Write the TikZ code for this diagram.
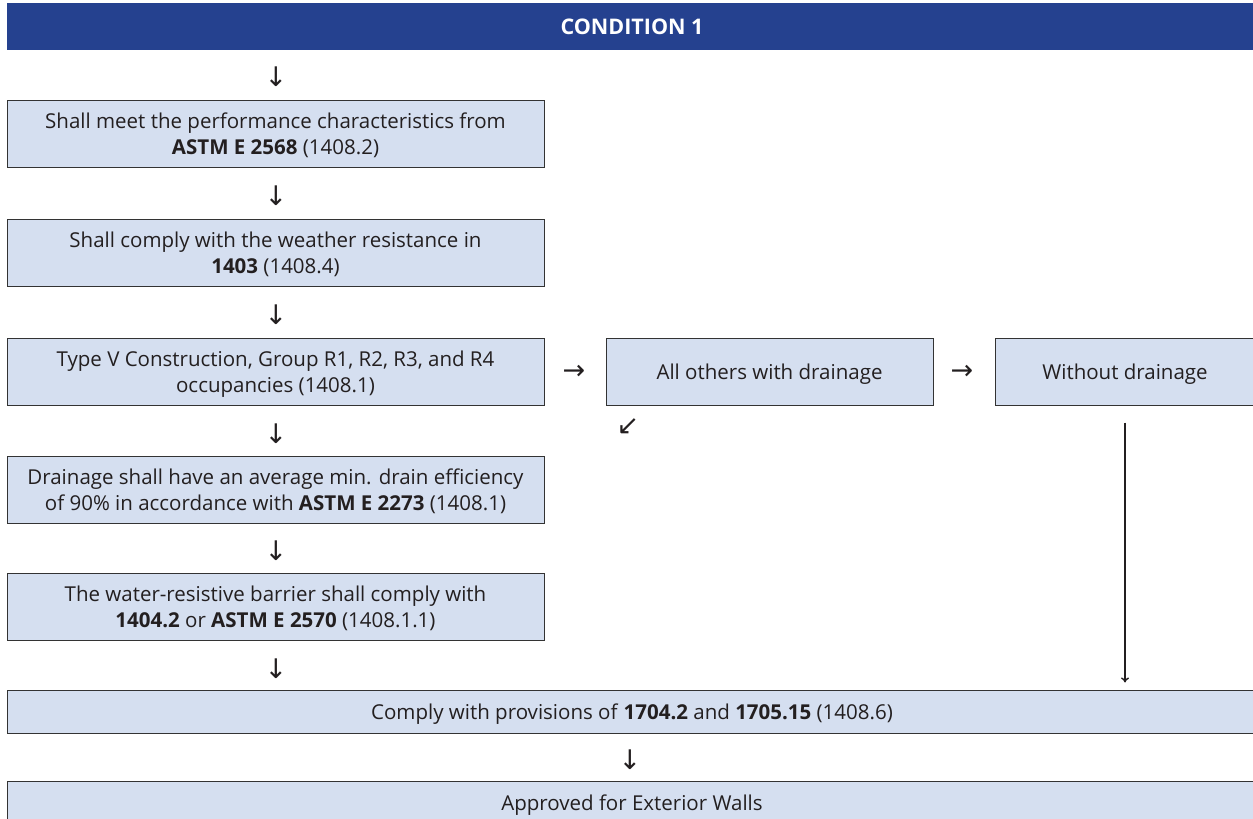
\documentclass[tikz,border=0pt]{standalone}
\usepackage{fontspec}
\setmainfont{Open Sans}
\newfontfamily\arrowfont{DejaVu Sans}
\usetikzlibrary{arrows.meta}

\definecolor{headblue}{HTML}{25418F}
\definecolor{boxblue}{HTML}{D5DFF0}
\definecolor{boxline}{HTML}{333333}
\definecolor{inktext}{HTML}{231F20}

\tikzset{
  box/.style={draw=boxline, fill=boxblue, line width=1pt, align=center,
    inner sep=0pt, text=inktext, font=\fontsize{20.5}{26}\selectfont,
    execute at begin node={\rule{0pt}{21.5pt}}},
  narrowbox/.style={box, minimum width=537pt, minimum height=67pt, text depth=0pt},
  widebox/.style={box, minimum width=1250pt, minimum height=43pt},
  glyph/.style={inner sep=0pt, text=inktext, font=\arrowfont\fontsize{27}{27}\selectfont}
}

\begin{document}
\begin{tikzpicture}[x=1pt,y=-1pt]

        \useasboundingbox (0,0) rectangle (1253,819);
        \clip (0,0) rectangle (1253,819);

        \node[fill=headblue, minimum width=1250pt, minimum height=47pt, inner sep=0pt,
          text=white, font=\bfseries\fontsize{21.5}{21.5}\selectfont] (header) at (632,26.5) {CONDITION 1};

        \begin{scope}[every node/.style={narrowbox}]
          \node (perf)    at (275.5,133.5) {Shall meet the performance characteristics from\\ \textbf{ASTM E 2568} (1408.2)};
          \node (weather) at (275.5,252.5) {Shall comply with the weather resistance in\\ \textbf{1403} (1408.4)};
          \node (typev)   at (275.5,371.5) {Type V Construction, Group R1, R2, R3, and R4\\ occupancies (1408.1)};
          \node (drain)   at (275.5,489.5) {Drainage shall have an average min. drain efficiency\\ of 90\% in accordance with \textbf{ASTM E 2273} (1408.1)};
          \node (barrier) at (275.5,606.5) {The water-resistive barrier shall comply with\\ \textbf{1404.2} or \textbf{ASTM E 2570} (1408.1.1)};
        \end{scope}

        \begin{scope}[every node/.style={box, minimum height=67pt}]
          \node[minimum width=327pt] (others)  at (769.5,371.5) {All others with drainage};
          \node[minimum width=260pt] (without) at (1125,371.5)  {Without drainage};
        \end{scope}

        \begin{scope}[every node/.style={widebox}]
          \node (comply)   at (632,711.5) {Comply with provisions of \textbf{1704.2} and \textbf{1705.15} (1408.6)};
          \node (approved) at (632,802.5) {Approved for Exterior Walls};
        \end{scope}

        \begin{scope}[every node/.style={glyph}]
          \node (d1) at (276,77)  {↓};
          \node (d2) at (276,196) {↓};
          \node (d3) at (276,315) {↓};
          \node (d4) at (276,434) {↓};
          \node (d5) at (276,551) {↓};
          \node (d6) at (276,669) {↓};
          \node (d7) at (630,760) {↓};
          \node (r1) at (574,372) {→};
          \node (r2) at (962,372) {→};
          \node (sw) at (628,427) {↙};
        \end{scope}

        \draw[line width=1.4pt, draw=inktext, -{To[length=5pt,width=8pt]},
          shorten <=17pt, shorten >=7pt] (without.south) -- (without.south |- comply.north);

      \end{tikzpicture}
\end{document}
